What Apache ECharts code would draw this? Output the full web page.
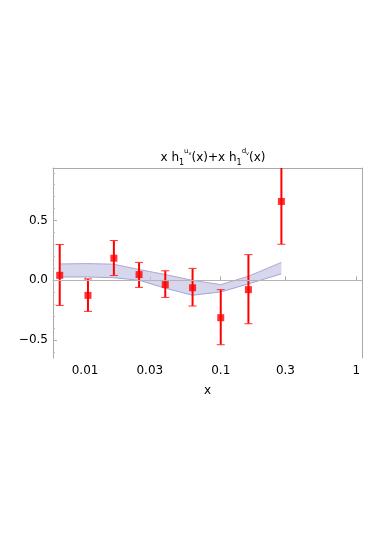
<!DOCTYPE html>
<html>
<head>
<meta charset="utf-8">
<script src="https://cdn.jsdelivr.net/npm/echarts@6/dist/echarts.min.js"></script>
<style>
  html, body { margin: 0; padding: 0; background: #fff; }
  #chart { width: 382px; height: 540px; }
</style>
</head>
<body>
<div id="chart"></div>
<script>
// data points (x, value, lower / upper end of the error bar)
const pointX = [0.0065, 0.0105, 0.0163, 0.025, 0.039, 0.062, 0.1, 0.16, 0.28];
const pointY = [0.042, -0.126, 0.185, 0.048, -0.036, -0.062, -0.313, -0.078, 0.66];
const errLow = [-0.21, -0.26, 0.04, -0.059, -0.143, -0.215, -0.539, -0.363, 0.302];
const errHigh = [0.30, 0.012, 0.333, 0.15, 0.08, 0.10, -0.078, 0.215, 1.02];

// model band
const bandX = [0.0065, 0.0104, 0.0162, 0.0252, 0.039, 0.062, 0.1, 0.16, 0.28];
const bandUpper = [0.137, 0.14, 0.135, 0.09, 0.048, 0.0, -0.036, 0.034, 0.15];
const bandLower = [0.028, 0.028, 0.022, 0.0, -0.066, -0.125, -0.097, -0.03, 0.054];

// tick labels
const xTicks = [0.01, 0.03, 0.1, 0.3, 1];
const yTicks = [-0.5, 0, 0.5];
const yMinorTicks = [-0.6, -0.4, -0.3, -0.2, -0.1, 0.1, 0.2, 0.3, 0.4, 0.6, 0.7, 0.8, 0.9];

const chart = echarts.init(document.getElementById('chart'));

const upperPts = bandX.map((x, i) => [x, bandUpper[i]]);
const lowerPts = bandX.map((x, i) => [x, bandLower[i]]);
const polygon = upperPts.concat(lowerPts.slice().reverse());

const fontFamily = 'DejaVu Sans';

chart.setOption({
  animation: false,
  title: {
    text: '{n|x h}{sb|1}{sp|u}{ss|v}{n|(x)+x h}{sb|1}{sp|d}{ss|v}{n|(x)}',
    left: 208,
    top: 143,
    textAlign: 'center',
    textStyle: {
      fontWeight: 'normal',
      rich: {
        n: { fontFamily, fontSize: 12, fontWeight: 'normal', color: '#000', verticalAlign: 'middle', lineHeight: 20 },
        sb: { fontFamily, fontSize: 8, fontWeight: 'normal', color: '#000', verticalAlign: 'bottom', lineHeight: 20, padding: [0, 0, 1, 0] },
        sp: { fontFamily, fontSize: 7, fontWeight: 'normal', color: '#000', verticalAlign: 'top', lineHeight: 20 },
        ss: { fontFamily, fontSize: 5, fontWeight: 'normal', color: '#000', verticalAlign: 'top', lineHeight: 20, padding: [3, 0, 0, 0] },
      },
    },
  },
  grid: { left: 53, right: 20, top: 168, bottom: 182 },
  xAxis: [
    {
      type: 'log',
      min: 0.0058,
      max: 1.1,
      name: 'x',
      nameLocation: 'middle',
      nameGap: 27,
      nameTextStyle: { fontFamily, fontSize: 12, color: '#000' },
      axisLine: { lineStyle: { color: '#aaa' } },
      axisTick: { inside: true, length: 4, customValues: xTicks, lineStyle: { color: '#aaa' } },
      axisLabel: {
        customValues: xTicks,
        fontFamily, fontSize: 12, color: '#000', margin: 7,
        formatter: v => String(+v.toPrecision(3)),
      },
      splitLine: { show: false },
      minorTick: { show: false },
    },
    {
      type: 'log',
      position: 'top',
      min: 0.0058,
      max: 1.1,
      axisLine: { onZero: false, lineStyle: { color: '#aaa' } },
      axisTick: { show: false },
      axisLabel: { show: false },
      splitLine: { show: false },
    },
  ],
  yAxis: [
    {
      type: 'value',
      min: -0.65,
      max: 0.94,
      axisLine: { show: true, lineStyle: { color: '#aaa' } },
      axisTick: { show: true, inside: true, length: 4, customValues: yTicks, lineStyle: { color: '#aaa' } },
      axisLabel: {
        customValues: yTicks,
        fontFamily, fontSize: 12, color: '#000', margin: 5,
        formatter: v => (v < 0 ? '\u2212' : '') + Math.abs(v).toFixed(1),
      },
      splitLine: { show: false },
    },
    {
      type: 'value',
      position: 'left',
      min: -0.65,
      max: 0.94,
      axisLine: { show: false },
      axisTick: { show: true, inside: true, length: 2, customValues: yMinorTicks, lineStyle: { color: '#bbb' } },
      axisLabel: { show: false },
      splitLine: { show: false },
    },
    {
      type: 'value',
      position: 'right',
      min: -0.65,
      max: 0.94,
      axisLine: { show: true, lineStyle: { color: '#aaa' } },
      axisTick: { show: false },
      axisLabel: { show: false },
      splitLine: { show: false },
    },
  ],
  series: [
    {
      // band fill
      type: 'custom',
      clip: true,
      data: [0],
      renderItem: (params, api) => ({
        type: 'polygon',
        shape: { points: polygon.map(p => api.coord(p)) },
        style: { fill: 'rgba(200,200,230,0.75)', stroke: null },
      }),
      z: 1,
    },
    {
      type: 'line',
      data: upperPts,
      symbol: 'none',
      lineStyle: { color: '#b4a4d0', width: 1 },
      z: 2,
    },
    {
      type: 'line',
      data: lowerPts,
      symbol: 'none',
      lineStyle: { color: '#a4a4d8', width: 1 },
      z: 2,
      markLine: {
        silent: true,
        symbol: 'none',
        label: { show: false },
        lineStyle: { color: '#b4b4b4', width: 1, type: 'solid' },
        data: [{ yAxis: 0 }],
      },
    },
    {
      // error bars
      type: 'custom',
      clip: true,
      data: pointX.map((x, i) => [x, errLow[i], errHigh[i]]),
      renderItem: (params, api) => {
        const x = api.value(0);
        const lo = api.coord([x, api.value(1)]);
        const hi = api.coord([x, api.value(2)]);
        const half = 4;
        return {
          type: 'group',
          children: [
            { type: 'line', shape: { x1: lo[0], y1: lo[1], x2: hi[0], y2: hi[1] }, style: { stroke: '#ff0000', lineWidth: 2 } },
            { type: 'line', shape: { x1: lo[0] - half, y1: lo[1], x2: lo[0] + half, y2: lo[1] }, style: { stroke: '#ff3030', lineWidth: 1 } },
            { type: 'line', shape: { x1: hi[0] - half, y1: hi[1], x2: hi[0] + half, y2: hi[1] }, style: { stroke: '#ff3030', lineWidth: 1 } },
          ],
        };
      },
      z: 3,
    },
    {
      type: 'scatter',
      data: pointX.map((x, i) => [x, pointY[i]]),
      symbol: 'rect',
      symbolSize: 7,
      itemStyle: { color: '#ff0000' },
      z: 4,
    },
  ],
});
</script>
</body>
</html>
